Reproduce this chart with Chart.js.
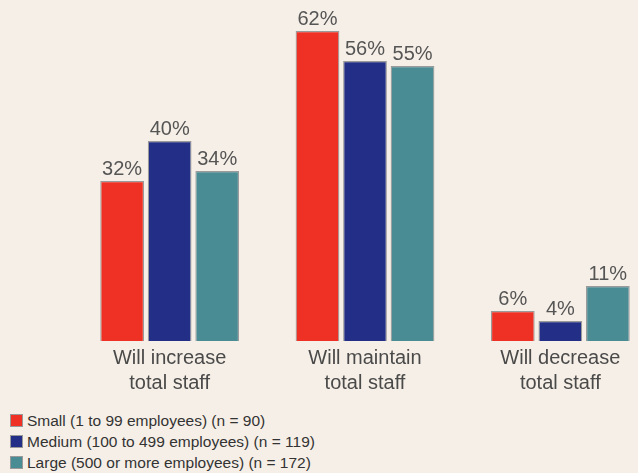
<!DOCTYPE html>
<html>
<head>
<meta charset="utf-8">
<script src="https://cdn.jsdelivr.net/npm/chart.js@4"></script>
<style>
    html, body { margin: 0; padding: 0; overflow: hidden; background: #f6efe7; }
    body { width: 638px; height: 473px; position: relative; font-family: "Liberation Sans", Arial, sans-serif; }
    #wrap { position: absolute; left: 0; top: 4px; width: 662px; height: 402px; }
    #legend { position: absolute; left: 10px; top: 410px; font-size: 15.5px; color: #333; }
    #legend div { height: 21px; line-height: 21px; white-space: nowrap; }
    #legend span { display: inline-block; width: 13px; height: 13px; margin-right: 4px; vertical-align: -1px; box-sizing: border-box; border: 1px solid #999; }
</style>
</head>
<body>
<div id="wrap"><canvas id="staffChart"></canvas></div>
<div id="legend"></div>
<script>
const categories = [['Will increase', 'total staff'], ['Will maintain', 'total staff'], ['Will decrease', 'total staff']];
const seriesNames = ['Small (1 to 99 employees) (n = 90)', 'Medium (100 to 499 employees) (n = 119)', 'Large (500 or more employees) (n = 172)'];
const smallValues = [32, 62, 6];
const mediumValues = [40, 56, 4];
const largeValues = [34, 55, 11];
const colors = ['#ee3124', '#232f86', '#4a8c94'];

document.addEventListener('DOMContentLoaded', function () {
    buildLegend();
    initializeStaffChart();
});

function buildLegend() {
    const box = document.getElementById('legend');
    seriesNames.forEach(function (name, i) {
        const row = document.createElement('div');
        row.innerHTML = '<span style="background:' + colors[i] + '"></span>' + name;
        box.appendChild(row);
    });
}

// draws the "32%" style labels above each bar
const valueLabels = {
    id: 'valueLabels',
    afterDatasetsDraw(chart) {
        const ctx = chart.ctx;
        ctx.save();
        ctx.font = '20px "Liberation Sans", Arial, sans-serif';
        ctx.fillStyle = '#555';
        ctx.textAlign = 'center';
        ctx.textBaseline = 'bottom';
        chart.data.datasets.forEach(function (ds, i) {
            chart.getDatasetMeta(i).data.forEach(function (bar, j) {
                ctx.fillText(ds.data[j] + '%', bar.x, bar.y - 2);
            });
        });
        ctx.restore();
    }
};

function initializeStaffChart() {
    const ctx = document.getElementById('staffChart').getContext('2d');
    const values = [smallValues, mediumValues, largeValues];

    new Chart(ctx, {
        type: 'bar',
        data: {
            labels: categories,
            datasets: values.map(function (v, i) {
                return {
                    label: seriesNames[i],
                    data: v,
                    backgroundColor: colors[i],
                    borderColor: '#9a9a9a',
                    borderWidth: 1.2,
                    barPercentage: 0.92,
                    categoryPercentage: 0.73
                };
            })
        },
        options: {
            responsive: true,
            maintainAspectRatio: false,
            animation: false,
            layout: { padding: { left: 72, right: 4, top: 17, bottom: 5 } },
            plugins: {
                legend: { display: false },
                tooltip: { enabled: false }
            },
            scales: {
                y: {
                    display: false,
                    min: 0,
                    max: 64
                },
                x: {
                    grid: { display: false, drawTicks: false },
                    border: { display: false },
                    ticks: {
                        color: '#4a4a4a',
                        font: { size: 20, family: '"Liberation Sans", Arial, sans-serif', lineHeight: 1.25 },
                        padding: 5
                    }
                }
            }
        },
        plugins: [valueLabels]
    });
}
</script>
</body>
</html>
